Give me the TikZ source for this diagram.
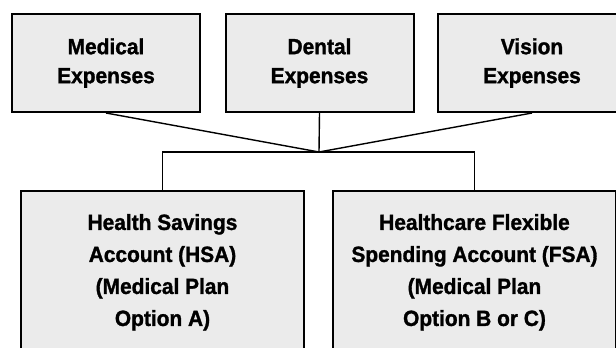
\documentclass[tikz,border=0pt]{standalone}
\usepackage{fontspec}
\setmainfont[FakeStretch=0.93]{Liberation Sans}
\newfontfamily\heavyfont[FakeStretch=0.95,FakeBold=1.3]{Liberation Sans Bold}
\usepackage{tikz}
\usetikzlibrary{backgrounds,calc}

\begin{document}
\begin{tikzpicture}[x=1pt,y=-1pt]
        \tikzstyle{expense} = [draw,line width=2pt,fill=black!8,minimum width=188pt,minimum height=98pt,align=center,font=\heavyfont\fontsize{22}{29}\selectfont]
        \tikzstyle{account} = [draw,line width=2pt,fill=black!8,minimum width=283pt,anchor=north,inner ysep=23pt,align=center,font=\heavyfont\fontsize{22}{32}\selectfont]
        \tikzstyle{link} = [line width=1.4pt]
        %
        \useasboundingbox (0,0) rectangle (616,348);
        \clip (0,0) rectangle (616,348);
        % Top row.
        \node[expense] (medical) at (106,63) {Medical\\Expenses};
        \node[expense] (dental) at (319.5,63) {Dental\\Expenses};
        \node[expense] (vision) at (532,63) {Vision\\Expenses};
        % Bottom row.
        \node[account] (hsa) at (162.5,190) {Health Savings\\Account (HSA)\\(Medical Plan\\Option A)};
        \node[account] (fsa) at (474.5,190) {Healthcare Flexible\\Spending Account (FSA)\\(Medical Plan\\Option B or C)};
        \coordinate (hub) at (319,152);
        \begin{pgfonlayer}{background}
            % Draw lines.
            \draw[link] (medical.south) -- (hub) (dental.south) -- (hub) (vision.south) -- (hub);
            \draw[link] (hsa.north) |- (hub) -| (fsa.north);
        \end{pgfonlayer}
        %
\end{tikzpicture}
\end{document}
